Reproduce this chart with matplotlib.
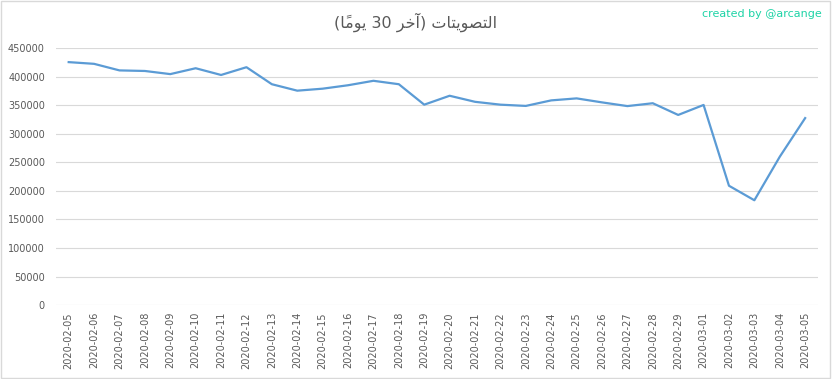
import matplotlib
matplotlib.use("Agg")
import matplotlib.pyplot as plt
import numpy as np

# data
dates = ["2020-02-05", "2020-02-06", "2020-02-07", "2020-02-08", "2020-02-09",
         "2020-02-10", "2020-02-11", "2020-02-12", "2020-02-13", "2020-02-14",
         "2020-02-15", "2020-02-16", "2020-02-17", "2020-02-18", "2020-02-19",
         "2020-02-20", "2020-02-21", "2020-02-22", "2020-02-23", "2020-02-24",
         "2020-02-25", "2020-02-26", "2020-02-27", "2020-02-28", "2020-02-29",
         "2020-03-01", "2020-03-02", "2020-03-03", "2020-03-04", "2020-03-05"]
votes = [425500, 422500, 411000, 410000, 404500,
         414800, 403000, 416600, 386800, 375500,
         379000, 385000, 392800, 386800, 351000,
         366600, 356000, 351000, 348800, 358500,
         362000, 355000, 348500, 353500, 333000,
         350500, 209000, 183600, 259800, 327500]
yticks = [0, 50000, 100000, 150000, 200000, 250000, 300000, 350000, 400000, 450000]

# "التصويتات (آخر 30 يومًا)" pre-shaped (presentation forms, visual order)
# matplotlib does no arabic shaping/bidi by itself
title_visual = ("(" + "\uFE8E\u064B\uFEE3\uFEEE\uFEF3" + " 30 " + "\uFEAE\uFEA7\uFE81" + ") "
                + "\uFE95\uFE8E\uFE98\uFEF3\uFEEE\uFEBC\uFE98\uFEDF\uFE8D")

grey = "#595959"

fig = plt.figure(figsize=(8.32, 3.79), dpi=100)
ax = fig.add_axes([0.0673, 0.195, 0.9157, 0.678])

x = np.arange(len(dates))
ax.plot(x, votes, color="#5B9BD5", linewidth=1.6, zorder=3)

ax.set_xlim(-0.5, len(dates) - 0.5)
ax.set_ylim(0, 450000)
ax.set_yticks(yticks)
ax.set_yticklabels([str(v) for v in yticks])
ax.set_xticks(x)
ax.set_xticklabels(dates, rotation=90)
ax.tick_params(axis="both", length=0, labelsize=7, colors=grey)
ax.tick_params(axis="y", pad=8)
ax.tick_params(axis="x", pad=5)
ax.grid(axis="y", color="#D9D9D9", linewidth=0.8)
ax.set_axisbelow(True)
for s in ax.spines.values():
    s.set_visible(False)

fig.text(0.5, 0.94, title_visual, ha="center", va="center", fontsize=11.5,
         color=grey, family=["DejaVu Sans"])
fig.text(0.988, 0.962, "created by @arcange", ha="right", va="center",
         fontsize=8, color="#1DD3A6")

# thin chart-area border like the original
fig.patches.append(plt.Rectangle((0.001, 0.003), 0.996, 0.994, transform=fig.transFigure,
                                 fill=False, edgecolor="#D9D9D9", linewidth=1))

fig.savefig("out.png", dpi=100)
